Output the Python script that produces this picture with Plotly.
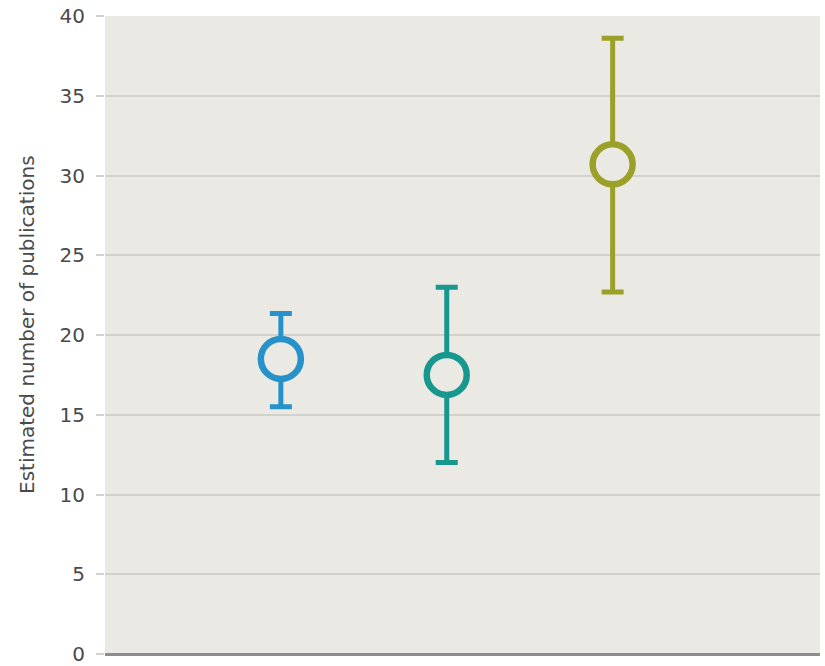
import plotly.graph_objects as go

groups = ["Group A", "Group B", "Group C"]
x_pos = [1, 2, 3]
estimates = [18.5, 17.5, 30.7]
upper = [21.35, 23.0, 38.6]
lower = [15.5, 12.0, 22.7]
colors = ["#2792C9", "#18978F", "#9BA028"]
y_title = "Estimated number of publications"

bg = "#EAE9E4"

fig = go.Figure()
for i in range(len(groups)):
    fig.add_trace(go.Scatter(
        x=[x_pos[i]], y=[estimates[i]], mode="markers", name=groups[i],
        error_y=dict(type="data", symmetric=False,
                     array=[upper[i] - estimates[i]],
                     arrayminus=[estimates[i] - lower[i]],
                     color=colors[i], thickness=5, width=11),
        marker=dict(symbol="circle", size=40, color=bg,
                    line=dict(color=colors[i], width=6.5)),
        showlegend=False,
    ))

fig.add_annotation(
    text=y_title, textangle=-90, showarrow=False,
    xref="paper", yref="paper", x=-78 / 715, y=329 / 638,
    xanchor="center", yanchor="middle",
    font=dict(family="DejaVu Sans", size=20, color="#4a4a4a"),
)

fig.update_layout(
    width=825, height=666,
    margin=dict(l=105, r=5, t=16, b=12),
    paper_bgcolor="white", plot_bgcolor=bg,
    font=dict(family="DejaVu Sans, sans-serif", color="#4a4a4a"),
    xaxis=dict(range=[-0.06, 4.25], showticklabels=False, showgrid=False,
               zeroline=False, ticks="", showline=False, automargin=False),
    yaxis=dict(range=[0, 40], dtick=5, showgrid=True, gridcolor="#D2D1CC",
               gridwidth=1.5, zeroline=True, zerolinecolor="#8C8C8C",
               zerolinewidth=3, ticks="outside", ticklen=8, automargin=False,
               tickcolor="#D2D1CC", tickwidth=1.5, ticklabelstandoff=7,
               tickfont=dict(family="DejaVu Sans", size=20, color="#4a4a4a")),
)

fig.write_html("out.html")
